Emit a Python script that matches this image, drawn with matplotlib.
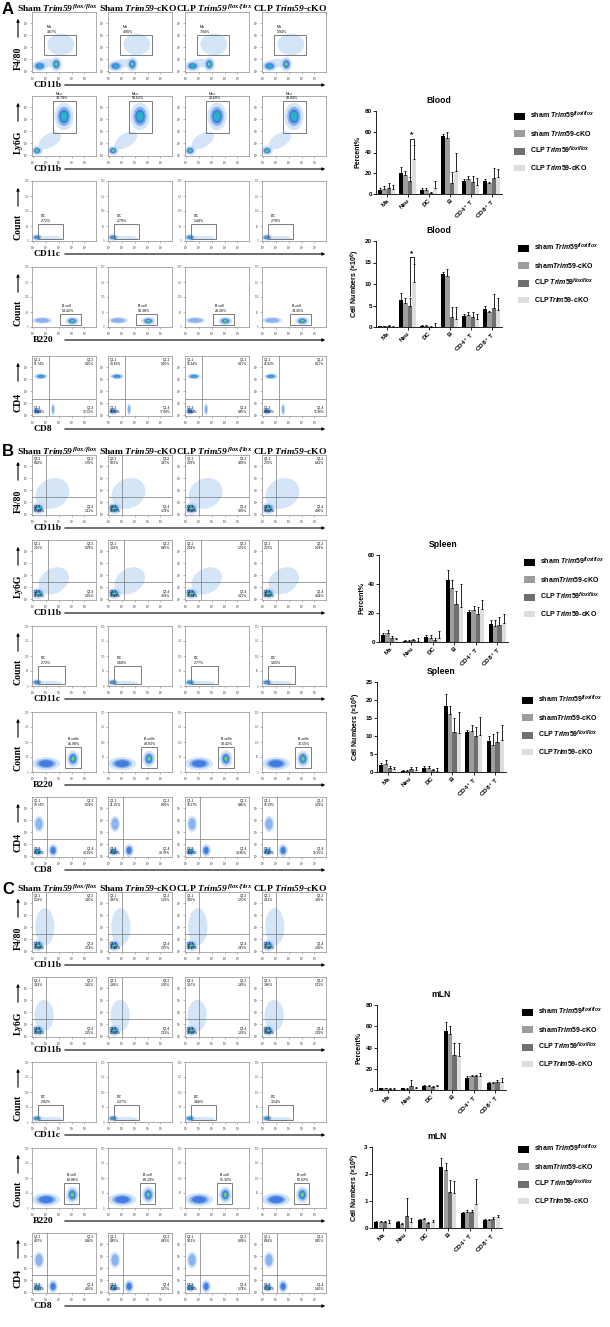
import matplotlib
matplotlib.use('Agg')
import matplotlib.pyplot as plt
from matplotlib.patches import Ellipse, Rectangle, Patch

plt.rcParams['font.family'] = ['Liberation Sans', 'DejaVu Sans']
plt.rcParams['mathtext.fontset'] = 'custom'
plt.rcParams['mathtext.rm'] = 'Liberation Sans:bold'
plt.rcParams['mathtext.bf'] = 'Liberation Sans:bold'
plt.rcParams['mathtext.it'] = 'Liberation Sans:italic:bold'
plt.rcParams['mathtext.sf'] = 'Liberation Serif:italic:bold'

# ---------------- data: bar charts ----------------
cell_types = ['Ma', 'Neu', 'DC', 'B', 'CD4$^+$ T', 'CD8$^+$ T']
bar_colors = ['#000000', '#9d9d9d', '#6f6f6f', '#dedede']

blood_pct = [[4, 20, 4, 56, 13, 13], [5, 18, 4, 54, 14, 11],
             [6, 13, 1, 11, 12, 15], [5, 34, 6, 22, 9, 16]]
blood_pct_err = [[2, 6, 1.5, 2, 1, 1], [3, 4, 2, 6, 3, 1],
                 [5, 3, 1, 10, 5, 10], [4, 13, 7, 18, 6, 8]]
blood_num = [[0.2, 6.2, 0.3, 12.4, 2.6, 4.2], [0.2, 5.5, 0.2, 11.9, 2.8, 3.4],
             [0.2, 4.8, 0.1, 2.4, 2.4, 4.4], [0.1, 10.5, 0.1, 1.9, 1.8, 3.9]]
blood_num_err = [[0.1, 1.7, 0.1, 0.3, 0.4, 0.6], [0.1, 1.3, 0.2, 1.5, 0.6, 0.4],
                 [0.2, 2.0, 0.1, 2.2, 1.1, 3.2], [0.2, 4.2, 0.9, 2.7, 1.2, 2.8]]

spleen_pct = [[5, 0.8, 3.5, 42.5, 21, 12.5], [6, 0.8, 3, 37, 22, 11],
              [3, 1.2, 1.5, 26, 19, 12], [2, 1, 2.5, 24, 23, 13]]
spleen_pct_err = [[1.5, 0.3, 1.5, 7.5, 1, 2.5], [2, 0.5, 2, 6, 2.5, 4.5],
                  [1, 1, 1, 9, 5, 5], [1, 2, 5, 16, 6, 6]]
spleen_num = [[2, 0.4, 1.2, 18.3, 11, 8.5], [2.3, 0.3, 1, 16, 11.5, 7.5],
              [1.2, 0.7, 0.5, 11, 10, 8.2], [0.8, 0.5, 0.3, 10.8, 10.2, 9]]
spleen_num_err = [[0.6, 0.1, 0.4, 3.3, 0.7, 1.5], [0.9, 0.3, 0.7, 2.4, 1.5, 3],
                  [0.5, 0.8, 0.4, 4, 2.5, 3], [0.6, 1, 0.7, 6, 5, 4]]

mln_pct = [[1.5, 1.5, 4, 56, 11.5, 7], [1.5, 1.2, 4, 53, 13, 7],
           [1.2, 3.5, 3, 33, 13, 8], [1, 1.5, 3.5, 32, 13, 8]]
mln_pct_err = [[0.3, 0.3, 0.5, 8, 1.5, 0.5], [0.3, 0.3, 0.8, 7, 1.5, 1],
               [0.5, 6, 0.5, 11, 1.5, 1.5], [0.8, 1, 1, 12, 3, 3]]
mln_num = [[0.24, 0.22, 0.31, 2.25, 0.55, 0.30], [0.22, 0.16, 0.32, 2.15, 0.60, 0.30],
           [0.21, 0.43, 0.20, 1.33, 0.60, 0.35], [0.18, 0.22, 0.23, 1.30, 0.90, 0.40]]
mln_num_err = [[0.03, 0.04, 0.03, 0.35, 0.06, 0.03], [0.03, 0.03, 0.04, 0.27, 0.05, 0.05],
               [0.04, 0.68, 0.03, 0.45, 0.06, 0.05], [0.10, 0.15, 0.08, 0.45, 0.93, 0.09]]

legend_blood_pct = [r'sham $\mathit{Trim59}^{\mathit{flox/flox}}$', r'sham $\mathit{Trim59}$-cKO',
                    r'CLP $\mathit{Trim59}^{\mathit{flox/flox}}$', r'CLP $\mathit{Trim59}$-cKO']
legend_blood_num = [r'sham $\mathit{Trim59}^{\mathit{flox/flox}}$', r'sham$\mathit{Trim59}$-cKO',
                    r'CLP $\mathit{Trim59}^{\mathit{flox/flox}}$', r'CLP$\mathit{Trim59}$-cKO']
legend_spleen_pct = [r'sham $\mathit{Trim59}^{\mathit{flox/flox}}$', r'sham$\mathit{Trim59}$-cKO',
                     r'CLP $\mathit{Trim59}^{\mathit{flox/flox}}$', r'CLP $\mathit{Trim59}$-cKO']
legend_other = [r'sham $\mathit{Trim59}^{\mathit{flox/flox}}$', r'sham$\mathit{Trim59}$-cKO',
                r'CLP $\mathit{Trim59}^{\mathit{flox/flox}}$', r'CLP$\mathit{Trim59}$-cKO']

# ---------------- data: flow plots ----------------
groups = [r'Sham $\mathsf{Trim59}^{\,\mathsf{flox/flox}}$', r'Sham $\mathsf{Trim59}$-cKO',
          r'CLP $\mathsf{Trim59}^{\,\mathsf{flox/flox}}$', r'CLP $\mathsf{Trim59}$-cKO']
axis_names = [('F4/80', 'CD11b'), ('Ly6G', 'CD11b'), ('Count', 'CD11c'),
              ('Count', 'B220'), ('CD4', 'CD8')]

# populations: (x, y, width, height, angle, density level) in axes fraction
popA = [
    [(0.12, 0.10, 0.24, 0.18, 0, 4), (0.38, 0.13, 0.18, 0.24, 0, 5), (0.45, 0.46, 0.42, 0.36, 0, 1),
     (0.25, 0.15, 0.30, 0.14, 0, 1)],
    [(0.08, 0.09, 0.18, 0.16, 0, 5), (0.50, 0.66, 0.30, 0.46, 0, 4), (0.28, 0.26, 0.40, 0.22, 35, 1)],
    [(0.08, 0.06, 0.18, 0.11, 0, 4), (0.28, 0.05, 0.38, 0.07, 0, 1)],
    [(0.16, 0.11, 0.32, 0.11, 0, 2), (0.63, 0.10, 0.22, 0.14, 0, 5)],
    [(0.14, 0.66, 0.22, 0.10, 0, 4), (0.08, 0.08, 0.15, 0.12, 0, 3), (0.33, 0.11, 0.06, 0.20, 0, 2)],
]
popB = [
    [(0.10, 0.11, 0.22, 0.20, 0, 5), (0.32, 0.36, 0.56, 0.48, 40, 1)],
    [(0.10, 0.11, 0.22, 0.19, 0, 5), (0.34, 0.32, 0.52, 0.40, 40, 1)],
    [(0.08, 0.06, 0.18, 0.11, 0, 4), (0.28, 0.05, 0.38, 0.07, 0, 1)],
    [(0.22, 0.14, 0.44, 0.22, 0, 3), (0.64, 0.22, 0.20, 0.28, 0, 5)],
    [(0.11, 0.55, 0.16, 0.28, 0, 2), (0.09, 0.09, 0.16, 0.15, 0, 4), (0.33, 0.11, 0.15, 0.22, 0, 3)],
]
popC = [
    [(0.10, 0.11, 0.20, 0.20, 0, 5), (0.20, 0.42, 0.30, 0.62, 0, 1)],
    [(0.10, 0.11, 0.20, 0.19, 0, 5), (0.19, 0.36, 0.30, 0.52, 0, 1)],
    [(0.08, 0.06, 0.18, 0.11, 0, 4), (0.28, 0.05, 0.38, 0.07, 0, 1)],
    [(0.22, 0.14, 0.44, 0.22, 0, 3), (0.63, 0.22, 0.20, 0.28, 0, 5)],
    [(0.11, 0.55, 0.16, 0.28, 0, 2), (0.09, 0.09, 0.16, 0.15, 0, 4), (0.33, 0.11, 0.15, 0.22, 0, 3)],
]

# gates: (name, x, y, w, h, values per group)
gatesA = {0: ('Ma', 0.19, 0.29, 0.49, 0.33, ['3.67%', '4.90%', '7.94%', '5.94%']),
          1: ('Neu', 0.33, 0.38, 0.36, 0.53, ['74.78%', '58.62%', '23.60%', '48.84%']),
          2: ('DC', 0.10, 0.03, 0.38, 0.25, ['2.72%', '2.79%', '1.44%', '2.78%']),
          3: ('B cell', 0.43, 0.03, 0.33, 0.19, ['54.42%', '58.38%', '29.26%', '34.35%'])}
gatesB = {2: ('DC', 0.10, 0.03, 0.42, 0.30, ['2.72%', '2.68%', '2.77%', '1.65%']),
          3: ('B cells', 0.52, 0.06, 0.24, 0.36, ['41.98%', '42.93%', '30.42%', '35.15%'])}
gatesC = {2: ('DC', 0.10, 0.03, 0.38, 0.25, ['2.92%', '2.27%', '3.66%', '3.14%']),
          3: ('B cell', 0.50, 0.06, 0.24, 0.36, ['62.86%', '60.19%', '55.32%', '52.02%'])}

# quadrants: (prefix, x line, y line, values per group [q1, q2, q3, q4])
quadsA = {4: ('Q1', 0.27, 0.29, [['11.74%', '0.10%', '75.64%', '12.52%'], ['14.49%', '0.10%', '67.70%', '17.68%'],
                                 ['16.34%', '0.17%', '73.64%', '9.85%'], ['26.92%', '0.17%', '60.50%', '12.36%']])}
quadsB = {0: ('Q2', 0.22, 0.30, [['8.92%', '2.76%', '87.40%', '1.12%'], ['8.52%', '3.47%', '86.27%', '1.74%'],
                                 ['2.39%', '3.68%', '90.38%', '3.56%'], ['2.76%', '6.81%', '84.93%', '4.80%']]),
          1: ('Q2', 0.25, 0.30, [['1.90%', '0.79%', '91.77%', '5.55%'], ['1.29%', '0.45%', '93.93%', '4.38%'],
                                 ['2.64%', '1.52%', '91.74%', '3.12%'], ['2.07%', '2.64%', '90.83%', '4.44%']]),
          4: ('Q1', 0.24, 0.30, [['19.74%', '0.74%', '65.36%', '14.16%'], ['21.15%', '0.56%', '63.50%', '14.79%'],
                                 ['18.27%', '0.86%', '66.01%', '14.86%'], ['16.23%', '1.02%', '67.25%', '15.50%']])}
quadsC = {0: ('Q2', 0.22, 0.30, [['5.28%', '1.60%', '90.58%', '2.54%'], ['4.87%', '1.32%', '91.46%', '2.35%'],
                                 ['3.95%', '1.50%', '92.13%', '2.42%'], ['4.12%', '1.66%', '91.86%', '2.36%']]),
          1: ('Q2', 0.22, 0.30, [['1.62%', '1.42%', '94.71%', '2.25%'], ['1.48%', '1.30%', '95.09%', '2.13%'],
                                 ['1.67%', '1.83%', '94.58%', '1.92%'], ['1.86%', '2.11%', '93.84%', '2.19%']]),
          4: ('Q1', 0.24, 0.30, [['8.37%', '0.36%', '86.31%', '4.96%'], ['8.85%', '0.42%', '85.46%', '5.27%'],
                                 ['9.12%', '0.38%', '84.76%', '5.74%'], ['8.94%', '0.45%', '85.16%', '5.45%']])}

# ---------------- layout helpers ----------------
W, H = 610, 1327
fig = plt.figure(figsize=(W / 100, H / 100), dpi=100)
fig.patch.set_facecolor('white')


def rect(x0, y0, x1, y1):
    return [x0 / W, 1 - y1 / H, (x1 - x0) / W, (y1 - y0) / H]


base = fig.add_axes([0, 0, 1, 1])
base.set_xlim(0, W)
base.set_ylim(H, 0)
base.axis('off')

layer_cols = ['#c3daf6', '#82aef0', '#3a76e0', '#22b7c4', '#86d447', '#f0e03a']
layer_scale = [1.0, 0.7, 0.5, 0.34, 0.22, 0.11]
col_x = [32, 108, 185, 262]
header_x = [57, 138, 214, 290]
serif = ['Liberation Serif', 'DejaVu Serif']


def flow_plot(ax, pops, count_axis):
    ax.set_xlim(0, 1)
    ax.set_ylim(0, 1)
    for s in ax.spines.values():
        s.set_color('#8a8a8a')
        s.set_linewidth(0.5)
    xt = [0.02, 0.22, 0.42, 0.62, 0.82]
    ax.set_xticks(xt)
    ax.set_xticklabels(['$10^%d$' % i for i in range(5)])
    if count_axis:
        ax.set_yticks([0, 0.25, 0.5, 0.75, 1.0])
        ax.set_yticklabels(['0', '50', '100', '150', '200'])
    else:
        ax.set_yticks(xt)
        ax.set_yticklabels(['$10^%d$' % i for i in range(5)])
    ax.tick_params(length=1.5, width=0.4, color='#888', labelsize=1.8, pad=0.8, labelcolor='#666')
    for (cx, cy, w, h, ang, lev) in pops:
        for i in range(lev):
            ax.add_patch(Ellipse((cx, cy), w * layer_scale[i], h * layer_scale[i], angle=ang,
                                 facecolor=layer_cols[i], edgecolor='none',
                                 alpha=0.7 if i == 0 else 0.9, zorder=2 + i))


def draw_panel(tops, pops, gates, quads, letter, head_y):
    base.text(2, head_y + 1, letter, fontsize=12, fontweight='bold', va='center', ha='left')
    for j, g in enumerate(groups):
        base.text(header_x[j], head_y, g, fontsize=6.8, fontweight='bold', family=serif,
                  ha='center', va='center')
    hgt = 60
    for r, top in enumerate(tops):
        for j in range(4):
            ax = fig.add_axes(rect(col_x[j], top, col_x[j] + 64, top + hgt))
            flow_plot(ax, pops[r], r in (2, 3))
            if r in gates:
                name, gx, gy, gw, gh, vals = gates[r]
                ax.add_patch(Rectangle((gx, gy), gw, gh, fill=False, edgecolor='#666', lw=0.6, zorder=10))
                ax.text(gx + 0.04, gy + gh + 0.02, name + '\n' + vals[j], fontsize=2.6,
                        va='bottom', ha='left', linespacing=1.2, zorder=11)
            if r in quads:
                pre, qx, qy, vals = quads[r]
                ax.axvline(qx, color='#777', lw=0.5, zorder=10)
                ax.axhline(qy, color='#777', lw=0.5, zorder=10)
                v = vals[j]
                kw = dict(fontsize=2.3, linespacing=1.1, zorder=11)
                ax.text(0.03, 0.97, pre + '-1\n' + v[0], va='top', ha='left', **kw)
                ax.text(0.97, 0.97, pre + '-2\n' + v[1], va='top', ha='right', **kw)
                ax.text(0.03, 0.03, pre + '-3\n' + v[2], va='bottom', ha='left', **kw)
                ax.text(0.97, 0.03, pre + '-4\n' + v[3], va='bottom', ha='right', **kw)
        ylab, xlab = axis_names[r]
        ay = top + hgt + 13
        base.text(33, ay, xlab, fontsize=6.8, fontweight='bold', family=serif, va='center', ha='left')
        base.annotate('', xy=(328, ay), xytext=(62, ay),
                      arrowprops=dict(arrowstyle='-|>', color='black', lw=0.8, mutation_scale=4))
        ly = top + hgt - 14
        base.text(18, ly, ylab, fontsize=7, fontweight='bold', family=serif, rotation=90,
                  va='center', ha='center')
        base.annotate('', xy=(18, top + 4), xytext=(18, ly - 18),
                      arrowprops=dict(arrowstyle='-|>', color='black', lw=0.8, mutation_scale=4))


draw_panel([12, 96, 181, 267, 356], popA, gatesA, quadsA, 'A', 8)
draw_panel([455, 540, 626, 712, 797], popB, gatesB, quadsB, 'B', 451)
draw_panel([892, 977, 1062, 1148, 1233], popC, gatesC, quadsC, 'C', 888)


# ---------------- bar charts ----------------
def bar_chart(box, vals, errs, ymax, step, ylabel, title, labels, leg_xy):
    ax = fig.add_axes(rect(*box))
    offs = [-0.3, -0.1, 0.1, 0.3]
    xs = list(range(len(cell_types)))
    for k in range(4):
        xk = [x + offs[k] for x in xs]
        ax.bar(xk, vals[k], 0.2, color=bar_colors[k], edgecolor='none', label=labels[k], zorder=2)
        ax.errorbar(xk, vals[k], yerr=[[0] * len(xs), errs[k]], fmt='none', ecolor='black',
                    elinewidth=0.6, capsize=1.0, capthick=0.6, zorder=3)
    ax.set_xlim(-0.5, 5.5)
    ax.set_ylim(0, ymax)
    ax.set_yticks([i * step for i in range(int(round(ymax / step)) + 1)])
    ax.set_xticks(xs)
    ax.set_xticklabels(cell_types, rotation=45, ha='right', rotation_mode='anchor')
    for s in ('top', 'right'):
        ax.spines[s].set_visible(False)
    for s in ('left', 'bottom'):
        ax.spines[s].set_linewidth(0.6)
    ax.tick_params(length=2, width=0.6, labelsize=4.5, pad=1)
    for t in ax.get_xticklabels() + ax.get_yticklabels():
        t.set_fontweight('bold')
    ax.set_ylabel(ylabel, fontsize=5, fontweight='bold', labelpad=2)
    ax.set_title(title, fontsize=6.2, fontweight='bold', pad=6)
    handles = [Patch(facecolor=bar_colors[k], edgecolor='none') for k in range(4)]
    ax.legend(handles, labels, loc='upper left', bbox_to_anchor=(leg_xy[0] / W, 1 - leg_xy[1] / H),
              bbox_transform=fig.transFigure, frameon=False, handlelength=1.6,
              handleheight=1.1, labelspacing=1.05, handletextpad=0.7, borderaxespad=0,
              borderpad=0, prop={'weight': 'bold', 'size': 5})
    return ax


def bracket(ax, x1, x2, y, y1, y2, ys):
    ax.plot([x1, x1, x2, x2], [y1, y, y, y2], color='black', lw=0.6, zorder=4)
    ax.text((x1 + x2) / 2, ys, '*', ha='center', va='bottom', fontsize=6, fontweight='bold')


ax = bar_chart((376, 111, 502, 194), blood_pct, blood_pct_err, 80, 20, 'Percent%', 'Blood',
               legend_blood_pct, (514, 110))
bracket(ax, 1.1, 1.3, 53, 17, 48, 53.5)
ax = bar_chart((376, 241, 502, 327), blood_num, blood_num_err, 20, 5, r'Cell Numbers (×10$^6$)', 'Blood',
               legend_blood_num, (518, 242))
bracket(ax, 1.1, 1.3, 16.2, 7.2, 15, 16.3)
bar_chart((379, 555, 508, 642), spleen_pct, spleen_pct_err, 60, 20, 'Percent%', 'Spleen',
          legend_spleen_pct, (524, 556))
bar_chart((377, 682, 506, 772), spleen_num, spleen_num_err, 25, 5, r'Cell Numbers (×10$^6$)', 'Spleen',
          legend_other, (522, 694))
bar_chart((377, 1005, 506, 1090), mln_pct, mln_pct_err, 80, 20, 'Percent%', 'mLN',
          legend_other, (522, 1006))
bar_chart((372, 1147, 502, 1228), mln_num, mln_num_err, 3, 1, r'Cell Numbers (×10$^6$)', 'mLN',
          legend_other, (518, 1143))

fig.savefig('out.png', dpi=100, facecolor='white')
